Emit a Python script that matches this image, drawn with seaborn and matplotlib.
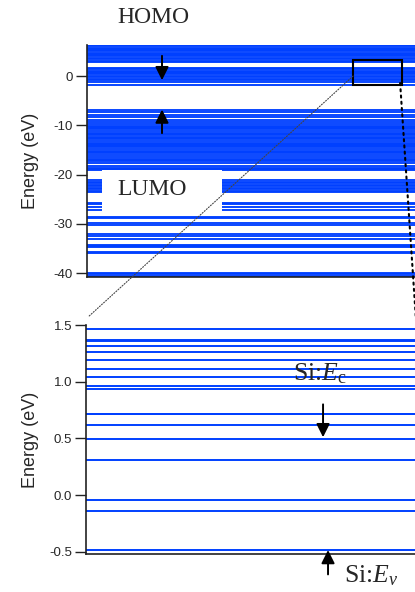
import matplotlib
matplotlib.use("Agg")
import matplotlib.pyplot as plt
from matplotlib.patches import Rectangle, ConnectionPatch
import pandas as pd
import seaborn as sns

# energy levels (eV)
cluster_levels = [6.25, 6.0, 5.75, 5.5, 5.25, 5.0, 4.75, 4.5, 4.25, 4.0, 3.75, 3.5,
                  3.0, 2.75,
                  1.6, 1.35, 1.1, 0.85, 0.6, 0.35, 0.1, -0.2,
                  -0.55, -0.9, -1.25, -1.75,
                  -6.9, -7.25, -7.9, -8.35, -8.9, -9.3,
                  -9.8, -10.1, -10.35, -10.6, -10.85, -11.1, -11.55, -11.8, -12.05,
                  -12.3, -12.55, -12.8, -13.25, -13.5, -13.75, -14.0, -14.25,
                  -14.5, -14.75, -15.2, -15.45, -15.7, -15.95,
                  -16.45, -16.75, -17.0, -17.3, -17.6,
                  -18.35, -18.6, -18.85, -19.1,
                  -21.1, -21.45, -21.75, -22.1, -22.4, -22.75, -23.0, -23.35, -23.6,
                  -25.7, -26.0, -26.5, -27.2,
                  -28.55, -28.9, -29.8, -30.15,
                  -32.1, -32.4, -33.0,
                  -34.3, -34.55, -34.8, -35.7, -35.95,
                  -40.0, -40.25, -40.5, -40.75]

gap_levels = [1.466, 1.36, 1.365, 1.316, 1.258, 1.19, 1.111, 1.041, 0.962, 0.938,
              0.712, 0.717, 0.616, 0.498, 0.308, -0.044, -0.138, -0.487]

top_ticks = [0, -10, -20, -30, -40]
bottom_ticks = [1.5, 1.0, 0.5, 0.0, -0.5]

blue = "#0040ff"

sns.set_style("ticks")
plt.rcParams["font.family"] = ["Liberation Sans", "DejaVu Sans"]
plt.rcParams["mathtext.fontset"] = "custom"
plt.rcParams["mathtext.rm"] = "Liberation Serif"
plt.rcParams["mathtext.it"] = "Liberation Serif:italic"


def levels_frame(levels):
    rows = []
    for i, e in enumerate(levels):
        rows.append({"x": 0.0, "E": e, "level": i})
        rows.append({"x": 1.0, "E": e, "level": i})
    return pd.DataFrame(rows)


W, H = 415, 592
fig = plt.figure(figsize=(W / 100, H / 100), dpi=100)

# axes placed in pixels (left, top, right, bottom); right edge runs past the figure
def px_axes(l, t, r, b):
    return fig.add_axes([l / W, 1 - b / H, (r - l) / W, (b - t) / H])

ax1 = px_axes(87, 45, 418, 277)
ax2 = px_axes(86, 325, 418, 554)

for ax, levels, lw in [(ax1, cluster_levels, 1.35), (ax2, gap_levels, 1.4)]:
    sns.lineplot(data=levels_frame(levels), x="x", y="E", units="level",
                 estimator=None, color=blue, lw=lw, ax=ax, legend=False)
    ax.set_xlim(0, 1)
    ax.set_xticks([])
    ax.set_xlabel("")
    ax.set_ylabel("Energy (eV)", fontsize=13)
    sns.despine(ax=ax, top=True, right=True)
    for s in ["left", "bottom"]:
        ax.spines[s].set_linewidth(1.2)
        ax.spines[s].set_color("#222222")
    ax.tick_params(axis="y", direction="out", length=8, width=1.0, labelsize=9.5,
                   color="#222222", pad=2)

ax1.set_ylim(-40.8, 6.3)
ax1.set_yticks(top_ticks)
ax1.set_yticklabels([str(t) for t in top_ticks])
ax2.set_ylim(-0.52, 1.5)
ax2.set_yticks(bottom_ticks)
ax2.set_yticklabels([f"{t:.1f}" for t in bottom_ticks])
ax1.yaxis.set_label_coords(-0.145, 0.5)
ax2.yaxis.set_label_coords(-0.142, 0.5)

serif = ["Liberation Serif", "DejaVu Serif"]

# zoom window on the upper panel
ax1.add_patch(Rectangle((0.804, -1.82), 0.148, 5.0, fill=False, ec="black", lw=1.5, zorder=5))

# LUMO label with white box
ax1.add_patch(Rectangle((0.045, -27.6), 0.363, 8.55, fc="white", ec="none", zorder=4))
ax1.text(0.196, -23.1, "LUMO", family=serif, fontsize=17, ha="center", va="center", zorder=6)
ax1.text(0.202, 11.8, "HOMO", family=serif, fontsize=17, ha="center", va="center",
         clip_on=False)

arrow = dict(arrowstyle="-|>", color="black", lw=1.4, mutation_scale=20,
             shrinkA=0, shrinkB=0)
ax1.annotate("", xy=(0.2266, -0.85), xytext=(0.2266, 4.1), arrowprops=arrow, zorder=6)
ax1.annotate("", xy=(0.2266, -6.8), xytext=(0.2266, -11.6), arrowprops=arrow, zorder=6)
ax2.annotate("", xy=(0.714, 0.51), xytext=(0.714, 0.80), arrowprops=arrow)
ax2.annotate("", xy=(0.729, -0.485), xytext=(0.729, -0.70), arrowprops=arrow,
             annotation_clip=False)

ax2.text(0.705, 1.07, r"Si:$E_\mathrm{c}$", family=serif, fontsize=18.5,
         ha="center", va="center")
ax2.text(0.778, -0.71, r"Si:$E_v$", family=serif, fontsize=18.5,
         ha="left", va="center", clip_on=False)

# dotted guide lines between the panels
c1 = ConnectionPatch(xyA=(0.804, 0.0), coordsA=ax1.transData,
                     xyB=(0.006, 1.57), coordsB=ax2.transData,
                     ls=(0, (1, 1.5)), lw=0.8, color="#444444")
c2 = ConnectionPatch(xyA=(0.946, -1.42), coordsA=ax1.transData,
                     xyB=(0.995, 1.5), coordsB=ax2.transData,
                     ls=(0, (1, 2)), lw=1.5, color="black")
fig.add_artist(c1)
fig.add_artist(c2)

fig.savefig("out.png", dpi=100)
